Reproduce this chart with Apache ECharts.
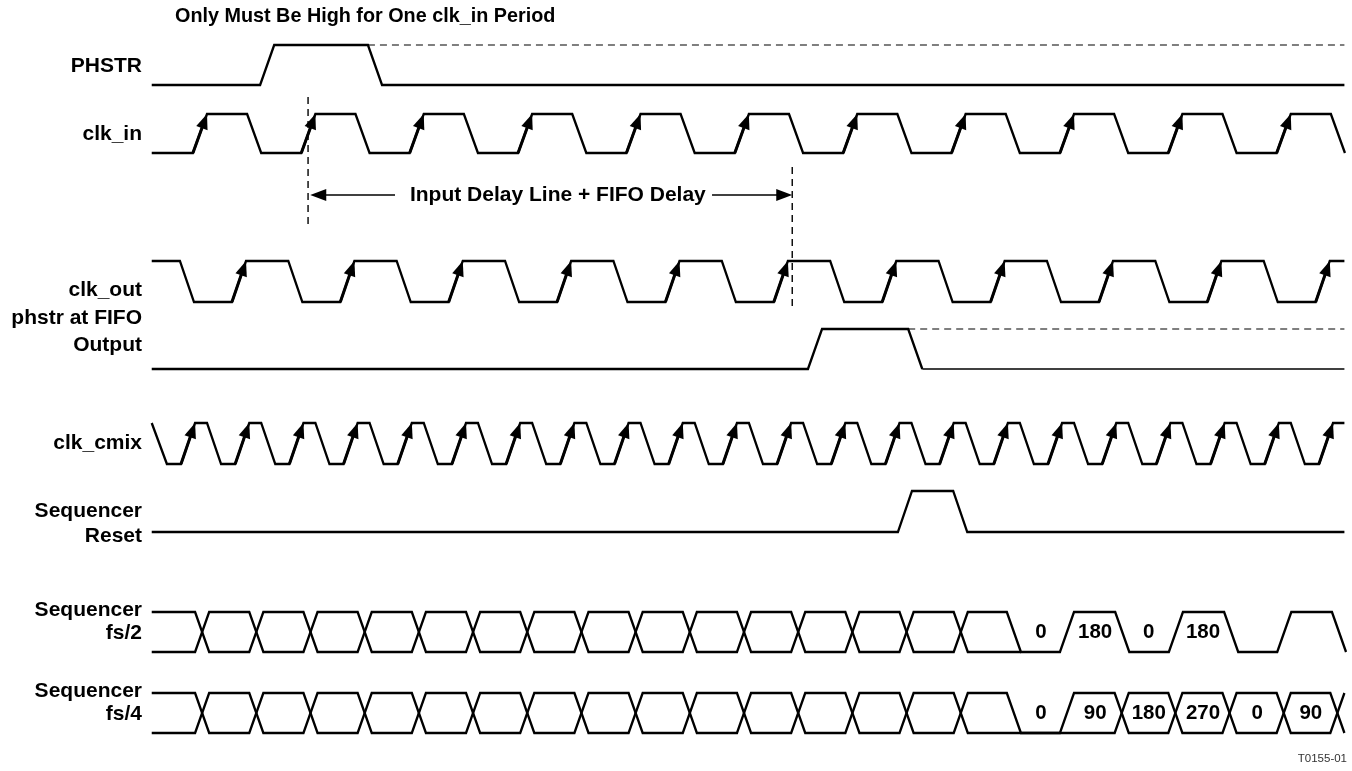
<!DOCTYPE html>
<html><head><meta charset="utf-8">
<script src="https://cdn.jsdelivr.net/npm/echarts@6.0.0/dist/echarts.min.js"></script>
<style>html,body{margin:0;padding:0;background:#fff}#c{width:1352px;height:771px}</style>
</head><body><div id="c"></div>
<script>
// ---------------- DATA (time unit = one clk_cmix period) ----------------
const titleText = 'Only Must Be High for One clk_in Period';
const footText = 'T0155-01';
const delayText = 'Input Delay Line + FIFO Delay';
const signalLabels = ['PHSTR', 'clk_in', 'clk_out', 'phstr at FIFO', 'Output', 'clk_cmix',
  'Sequencer', 'Reset', 'Sequencer', 'fs/2', 'Sequencer', 'fs/4'];

const tStart = 0, tEnd = 22.01;
const edgeTime = 0.26;               // transition duration

const phstrRise = [2.00];
const phstrFall = [3.99];
const clkInRise = [0.76, 2.76, 4.76, 6.76, 8.76, 10.76, 12.76, 14.76, 16.76, 18.76, 20.76];
const clkInFall = [1.76, 3.76, 5.76, 7.76, 9.76, 11.76, 13.76, 15.76, 17.76, 19.76, 21.76];
const clkOutRise = [1.48, 3.48, 5.48, 7.48, 9.48, 11.48, 13.48, 15.48, 17.48, 19.48, 21.48];
const clkOutFall = [0.52, 2.52, 4.52, 6.52, 8.52, 10.52, 12.52, 14.52, 16.52, 18.52, 20.52];
const fifoRise = [12.11];
const fifoFall = [13.96];
const cmixRise = [0.54, 1.54, 2.54, 3.54, 4.54, 5.54, 6.54, 7.54, 8.54, 9.54, 10.54,
  11.54, 12.54, 13.54, 14.54, 15.54, 16.54, 17.54, 18.54, 19.54, 20.54, 21.54];
const cmixFall = [0.02, 1.02, 2.02, 3.02, 4.02, 5.02, 6.02, 7.02, 8.02, 9.02, 10.02,
  11.02, 12.02, 13.02, 14.02, 15.02, 16.02, 17.02, 18.02, 19.02, 20.02, 21.02];
const resetRise = [13.77];
const resetFall = [14.79];
const seqBusCross = [0.80, 1.80, 2.80, 3.80, 4.80, 5.80, 6.80, 7.80, 8.80, 9.80, 10.80,
  11.80, 12.80, 13.80, 14.80];
const fs2Rise = [16.76, 18.77, 20.77];
const fs2Fall = [15.78, 17.78, 19.79, 21.78];
const fs4OpenFall = [15.78];
const fs4OpenRise = [16.76];
const fs4Cross = [17.77, 18.76, 19.76, 20.76, 21.75];
const fs2Values = ['0', '180', '0', '180'];
const fs2ValueTimes = [16.41, 17.41, 18.40, 19.40];
const fs4Values = ['0', '90', '180', '270', '0', '90'];
const fs4ValueTimes = [16.41, 17.41, 18.40, 19.40, 20.40, 21.39];
const markerA = 2.885;   // clk_in edge reference
const markerB = 11.82;   // clk_out edge reference

// ---------------- LAYOUT ----------------
const rows = {
  phstr: [45, 85], clkIn: [114, 153], clkOut: [261, 302], fifo: [329, 369],
  cmix: [423, 464], reset: [491, 532], fs2: [612, 652], fs4: [693, 733]
};
const labelY = [66, 134, 290, 318, 345, 443, 511, 536, 610, 633, 691, 714];
const labelRight = 142;
const FONT = '"Liberation Sans", Arial, Helvetica, sans-serif';
const FS_LABEL = 21, FS_VALUE = 20.5, FS_TITLE = 19.8, FS_DELAY = 21;
const delayY = 195, delayGap = [4.49, 10.34];
const markerAY = [97, 226], markerBY = [167, 306];

// ---------------- BUILDERS ----------------
function edgesFrom(rise, fall) {
  return rise.map(t => [t, 1]).concat(fall.map(t => [t, 0])).sort((a, b) => a[0] - b[0]);
}
function toggles(start, times) {
  let l = start; return times.map(t => { l = 1 - l; return [t, l]; });
}
function wave(startLevel, edges, t0, t1, row) {
  const y = l => l ? row[0] : row[1];
  let lvl = startLevel;
  const pts = [[t0, y(lvl)]];
  for (const [t, nl] of edges) {
    if (nl === lvl) continue;
    pts.push([t, y(lvl)]);
    pts.push([t + edgeTime, y(nl)]);
    lvl = nl;
  }
  const last = pts[pts.length - 1][0];
  pts.push([Math.max(t1, last), y(lvl)]);
  return pts;
}
function arrowEdges(rise, row) {
  return rise.map(t => [t, row[1], t + edgeTime, row[0]]);
}

const solid = [];
const thin = [];
solid.push(wave(0, edgesFrom(phstrRise, phstrFall), tStart, tEnd, rows.phstr));
solid.push(wave(0, edgesFrom(clkInRise, clkInFall), tStart, tEnd, rows.clkIn));
solid.push(wave(1, edgesFrom(clkOutRise, clkOutFall), tStart, tEnd, rows.clkOut));
solid.push(wave(0, edgesFrom(fifoRise, fifoFall), tStart, fifoFall[0] + edgeTime, rows.fifo));
thin.push([[fifoFall[0] + edgeTime, rows.fifo[1]], [tEnd, rows.fifo[1]]]);
solid.push(wave(1, edgesFrom(cmixRise, cmixFall), tStart, tEnd, rows.cmix));
solid.push(wave(0, edgesFrom(resetRise, resetFall), tStart, tEnd, rows.reset));
// fs/2 bus
solid.push(wave(1, toggles(1, seqBusCross), tStart, fs2Fall[0] + edgeTime, rows.fs2));
solid.push(wave(0, toggles(0, seqBusCross).concat(edgesFrom(fs2Rise, fs2Fall)), tStart, tEnd, rows.fs2));
// fs/4 bus
const aEnd = toggles(1, seqBusCross);
solid.push(wave(1, aEnd.concat(toggles(aEnd[aEnd.length - 1][1], fs4Cross)), tStart, tEnd, rows.fs4));
solid.push(wave(0, toggles(0, seqBusCross).concat(edgesFrom(fs4OpenRise, fs4OpenFall), toggles(1, fs4Cross)), tStart, tEnd, rows.fs4));

const dashed = [
  [[phstrFall[0], rows.phstr[0]], [tEnd, rows.phstr[0]]],
  [[fifoFall[0], rows.fifo[0]], [tEnd, rows.fifo[0]]]
];
const vdashed = [
  [[markerA, markerAY[0]], [markerA, markerAY[1]]],
  [[markerB, markerBY[0]], [markerB, markerBY[1]]]
];
const arrows = [].concat(
  arrowEdges(clkInRise, rows.clkIn),
  arrowEdges(clkOutRise, rows.clkOut),
  arrowEdges(cmixRise, rows.cmix)
);
const delayArrows = [
  [delayGap[0], delayY, markerA + 0.04, delayY],
  [delayGap[1], delayY, markerB, delayY]
];

function lineSeries(pts, width, dash) {
  return {
    type: 'line', data: pts, symbol: 'none', silent: true, animation: false,
    lineStyle: { color: '#000', width: width, type: dash || 'solid', cap: 'butt', join: 'miter' }
  };
}
function arrowSeries(data, lw, headL, headW) {
  return {
    type: 'custom', data: data, silent: true, animation: false,
    encode: { x: [0, 2], y: [1, 3] },
    renderItem(params, api) {
      const p0 = api.coord([api.value(0), api.value(1)]);
      const p1 = api.coord([api.value(2), api.value(3)]);
      const dx = p1[0] - p0[0], dy = p1[1] - p0[1];
      const len = Math.hypot(dx, dy);
      const ux = dx / len, uy = dy / len, nx = -uy, ny = ux;
      const bx = p1[0] - ux * headL, by = p1[1] - uy * headL;
      return {
        type: 'group', children: [
          { type: 'line', shape: { x1: p0[0], y1: p0[1], x2: bx + ux * 2, y2: by + uy * 2 },
            style: { stroke: '#000', lineWidth: lw } },
          { type: 'polygon', shape: { points: [[p1[0], p1[1]], [bx + nx * headW, by + ny * headW], [bx - nx * headW, by - ny * headW]] },
            style: { fill: '#000' } }
        ]
      };
    }
  };
}

function textSeries(data, size) {
  return {
    type: 'custom', data: data, silent: true, animation: false,
    encode: { x: 0, y: 1 },
    renderItem(params, api) {
      const p = api.coord([api.value(0), api.value(1)]);
      return {
        type: 'text', x: p[0], y: p[1],
        style: { text: data[params.dataIndex][2], fill: '#000', font: 'bold ' + size + 'px ' + FONT,
          textAlign: 'center', textVerticalAlign: 'middle', align: 'center', verticalAlign: 'middle' }
      };
    }
  };
}

const series = [];
solid.forEach(p => series.push(lineSeries(p, 2.3)));
thin.forEach(p => series.push(lineSeries(p, 1.3)));
dashed.forEach(p => series.push(lineSeries(p, 1.2, [7, 5])));
vdashed.forEach(p => series.push(lineSeries(p, 1.4, [7, 5])));
series.push(arrowSeries(arrows, 3, 15, 6));
series.push(arrowSeries(delayArrows, 1.6, 16, 6));

const valueLabels = fs2Values.map((v, i) => [fs2ValueTimes[i], (rows.fs2[0] + rows.fs2[1]) / 2, v])
  .concat(fs4Values.map((v, i) => [fs4ValueTimes[i], (rows.fs4[0] + rows.fs4[1]) / 2, v]));
series.push(textSeries(valueLabels, FS_VALUE));
series.push(textSeries([[(delayGap[0] + delayGap[1]) / 2 + 0.08, delayY, delayText]], FS_DELAY));

const graphic = signalLabels.map((s, i) => ({
  type: 'text', x: labelRight, y: labelY[i], silent: true,
  style: { text: s, fill: '#000', font: 'bold ' + FS_LABEL + 'px ' + FONT, textAlign: 'right', textVerticalAlign: 'middle', align: 'right', verticalAlign: 'middle' }
}));
graphic.push({ type: 'text', x: 175, y: 17, silent: true,
  style: { text: titleText, fill: '#000', font: 'bold ' + FS_TITLE + 'px ' + FONT, textAlign: 'left', textVerticalAlign: 'middle', align: 'left', verticalAlign: 'middle' } });
graphic.push({ type: 'text', x: 1347, y: 759, silent: true,
  style: { text: footText, fill: '#333', font: '11.5px ' + FONT, textAlign: 'right', textVerticalAlign: 'middle', align: 'right', verticalAlign: 'middle' } });

const chart = echarts.init(document.getElementById('c'), null, { renderer: 'canvas' });
chart.setOption({
  backgroundColor: '#fff',
  animation: false,
  grid: { left: 0, right: 0, top: 0, bottom: 0 },
  xAxis: { type: 'value', min: -2.8, max: 22.15, show: false },
  yAxis: { type: 'value', min: 0, max: 771, inverse: true, show: false },
  graphic: graphic,
  series: series
});
</script></body></html>
